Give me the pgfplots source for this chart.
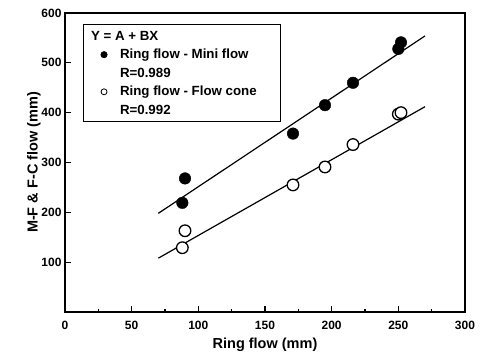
\documentclass[border=0pt]{standalone}
\usepackage{pgfplots}
\pgfplotsset{compat=1.18}
\usepackage{fontspec}
\setmainfont{Liberation Sans}
\begin{document}
\begin{tikzpicture}
\begin{axis}[
 name=ax,
 scale only axis, width=400pt, height=299pt,
 xmin=0, xmax=300, ymin=0, ymax=600,
 xtick={0,50,...,300}, ytick={100,200,...,600},
 minor xtick={25,75,...,275},
 tick pos=left, tick align=inside,
 major tick length=6pt, minor tick length=3pt,
 every tick/.style={black, line width=1.2pt},
 axis line style={line width=2pt},
 tick label style={font=\fontsize{12}{14}\selectfont\bfseries},
 xticklabel style={yshift=-6pt},
 /pgf/number format/assume math mode=true,
 label style={font=\fontsize{14.5}{17}\selectfont\bfseries},
 xlabel={Ring flow (mm)}, ylabel={M-F \& F-C flow (mm)},
 xlabel style={yshift=-1pt},
 ylabel style={yshift=-6pt},
 legend style={at={(0.045,0.962)}, anchor=north west, draw=black, line width=1pt,
   font=\fontsize{13.3}{15.5}\selectfont\bfseries, row sep=3.6pt, inner xsep=12pt, inner ysep=4pt},
 legend cell align=left,
]
\addlegendimage{empty legend}\addlegendentry{\hspace*{-18pt}Y = A + BX}
\addlegendimage{only marks, mark=*, mark size=3pt, black}\addlegendentry{\hspace*{11pt}Ring flow - Mini flow}
\addlegendimage{empty legend}\addlegendentry{\hspace*{11pt}R=0.989}
\addlegendimage{only marks, mark=o, mark size=3pt, black, line width=0.8pt}\addlegendentry{\hspace*{11pt}Ring flow - Flow cone\hspace*{10pt}}
\addlegendimage{empty legend}\addlegendentry{\hspace*{11pt}R=0.992}

\addplot[forget plot, black, line width=1.2pt] coordinates {(70,198) (270,554)};
\addplot[forget plot, black, line width=1.2pt] coordinates {(70,108) (270,412)};
\addplot[forget plot, only marks, mark=*, mark size=5.8pt, black] coordinates {
 (88,219) (90,268) (171,358) (195,415) (216,460) (250,528) (252,541)};
\addplot[forget plot, only marks, mark=*, mark size=5.8pt, black, line width=1.3pt, mark options={fill=white}] coordinates {
 (88,129) (90,163) (171,255) (195,291) (216,336) (250,397) (252,400)};
\end{axis}
\path ([shift={(-65pt,-50pt)}]ax.south west) rectangle ([shift={(20pt,13pt)}]ax.north east);
\end{tikzpicture}
\end{document}
